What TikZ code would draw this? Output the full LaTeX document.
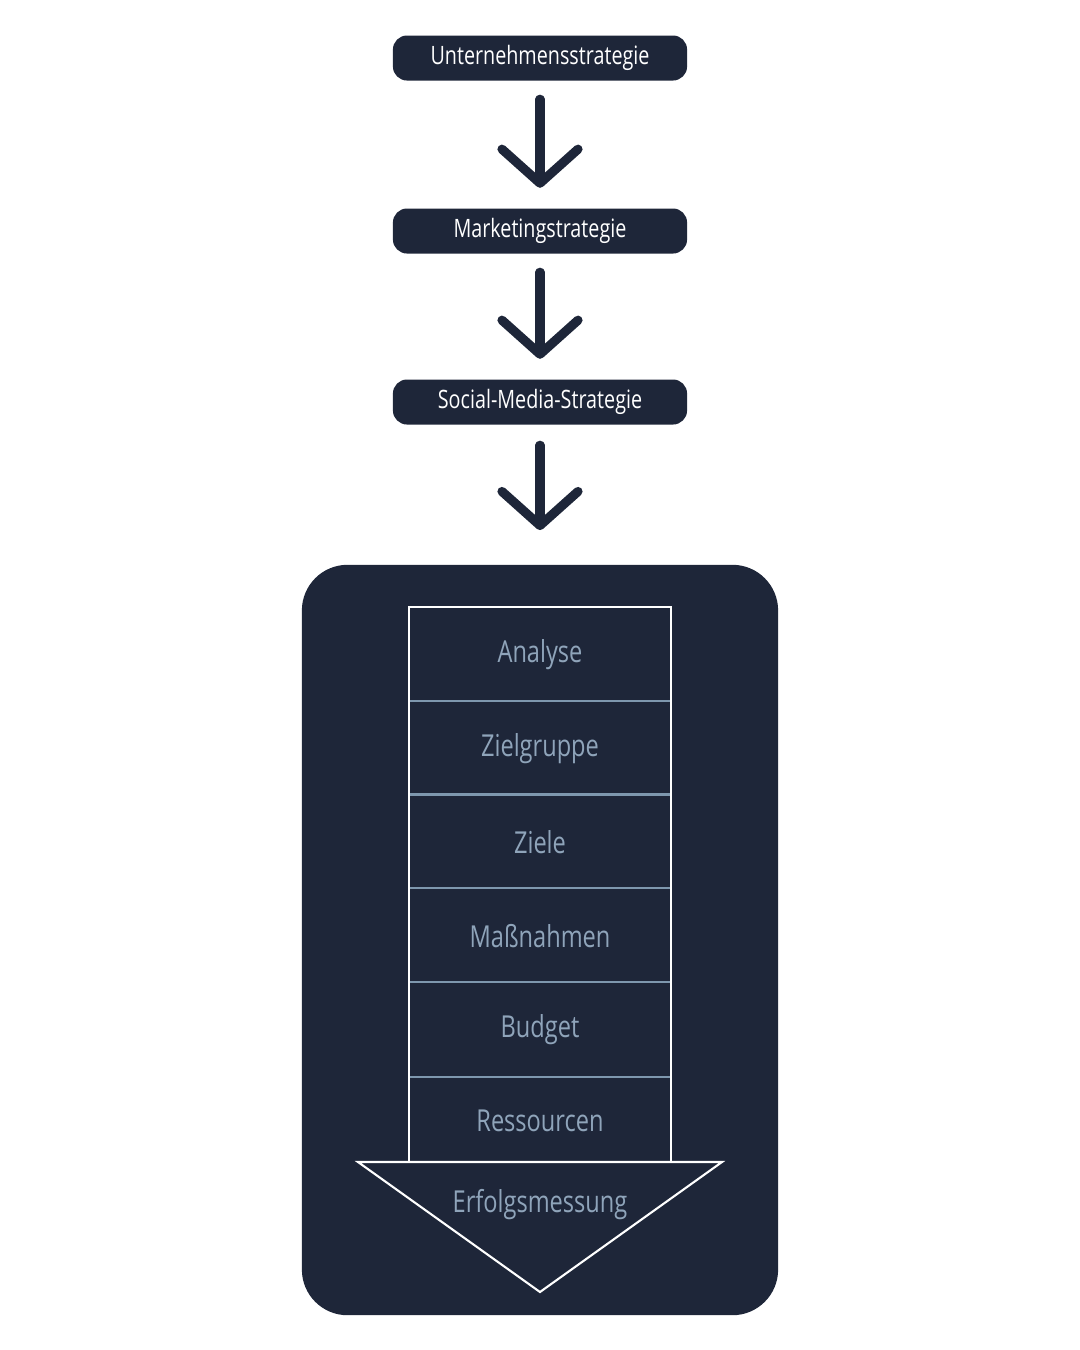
\documentclass[tikz,border=0pt]{standalone}
\usepackage{fontspec}
\setmainfont{Open Sans}[FakeStretch=0.78]
\usetikzlibrary{arrows.meta,positioning}
\definecolor{navy}{HTML}{1E2639}
\definecolor{paleblue}{HTML}{8FA4BA}
\definecolor{rowline}{HTML}{7E97AE}
\begin{document}
\begin{tikzpicture}[x=0.01cm,y=-0.01cm,
  stage/.style={rectangle, fill=navy, rounded corners=4pt,
    minimum width=2.94cm, minimum height=0.45cm,
    font=\fontsize{7.2}{8}\selectfont, text=white, inner sep=0pt},
  row/.style={rectangle, minimum width=2.6cm, minimum height=0.936cm,
    font=\fontsize{8.6}{10}\selectfont, text=paleblue, inner sep=0pt},
  flow/.style={-{Straight Barb[length=3.4mm,width=7.6mm,line cap=round,line join=round]},
    line width=2.6pt, navy, line cap=round},
]
  \useasboundingbox (0,0) rectangle (1080,1350);

  \node[stage] (corp)   at (540,58)  {Unternehmensstrategie};
  \node[stage] (mkt)    at (540,231) {Marketingstrategie};
  \node[stage] (social) at (540,402) {Social-Media-Strategie};

  \node[fill=navy, rounded corners=13pt, minimum width=4.76cm,
    minimum height=7.5cm, inner sep=0pt] (plan) at (540,940) {};

  \coordinate (tipL) at (358,1162);
  \coordinate (tipR) at (722,1162);
  \coordinate (tip)  at (540,1292);

  % stacked plan steps
  \foreach \name/\txt [count=\i] in {ana/Analyse, grp/Zielgruppe, goal/Ziele,
      act/Maßnahmen, bud/Budget}
    \node[row] (\name) at (540,{608+93.6*(\i-0.5)}) {\txt};
  \node[row] (res) at (540,1121) {Ressourcen};
  \foreach \name in {grp,goal,act,bud}
    \draw[rowline, line width=0.6pt] (\name.north west) -- (\name.north east);
  \draw[rowline, line width=0.6pt] (bud.south west) -- (bud.south east);
  \draw[white, line width=0.6pt] (ana.west |- tipL) |- (ana.north east) -- (ana.east |- tipL);

  \draw[white, line width=0.6pt] (tipL) -- (tipR) -- (tip) -- cycle;
  \node[font=\fontsize{8.6}{10}\selectfont, text=paleblue] (kpi) at (540,1205) {Erfolgsmessung};

  \draw[flow] ([yshift=-0.18cm]corp.south) -- ([yshift=0.2cm]mkt.north);
  \draw[flow] ([yshift=-0.18cm]mkt.south) -- ([yshift=0.2cm]social.north);
  \draw[flow] ([yshift=-0.2cm]social.south) -- ([yshift=0.34cm]plan.north);
\end{tikzpicture}
\end{document}
